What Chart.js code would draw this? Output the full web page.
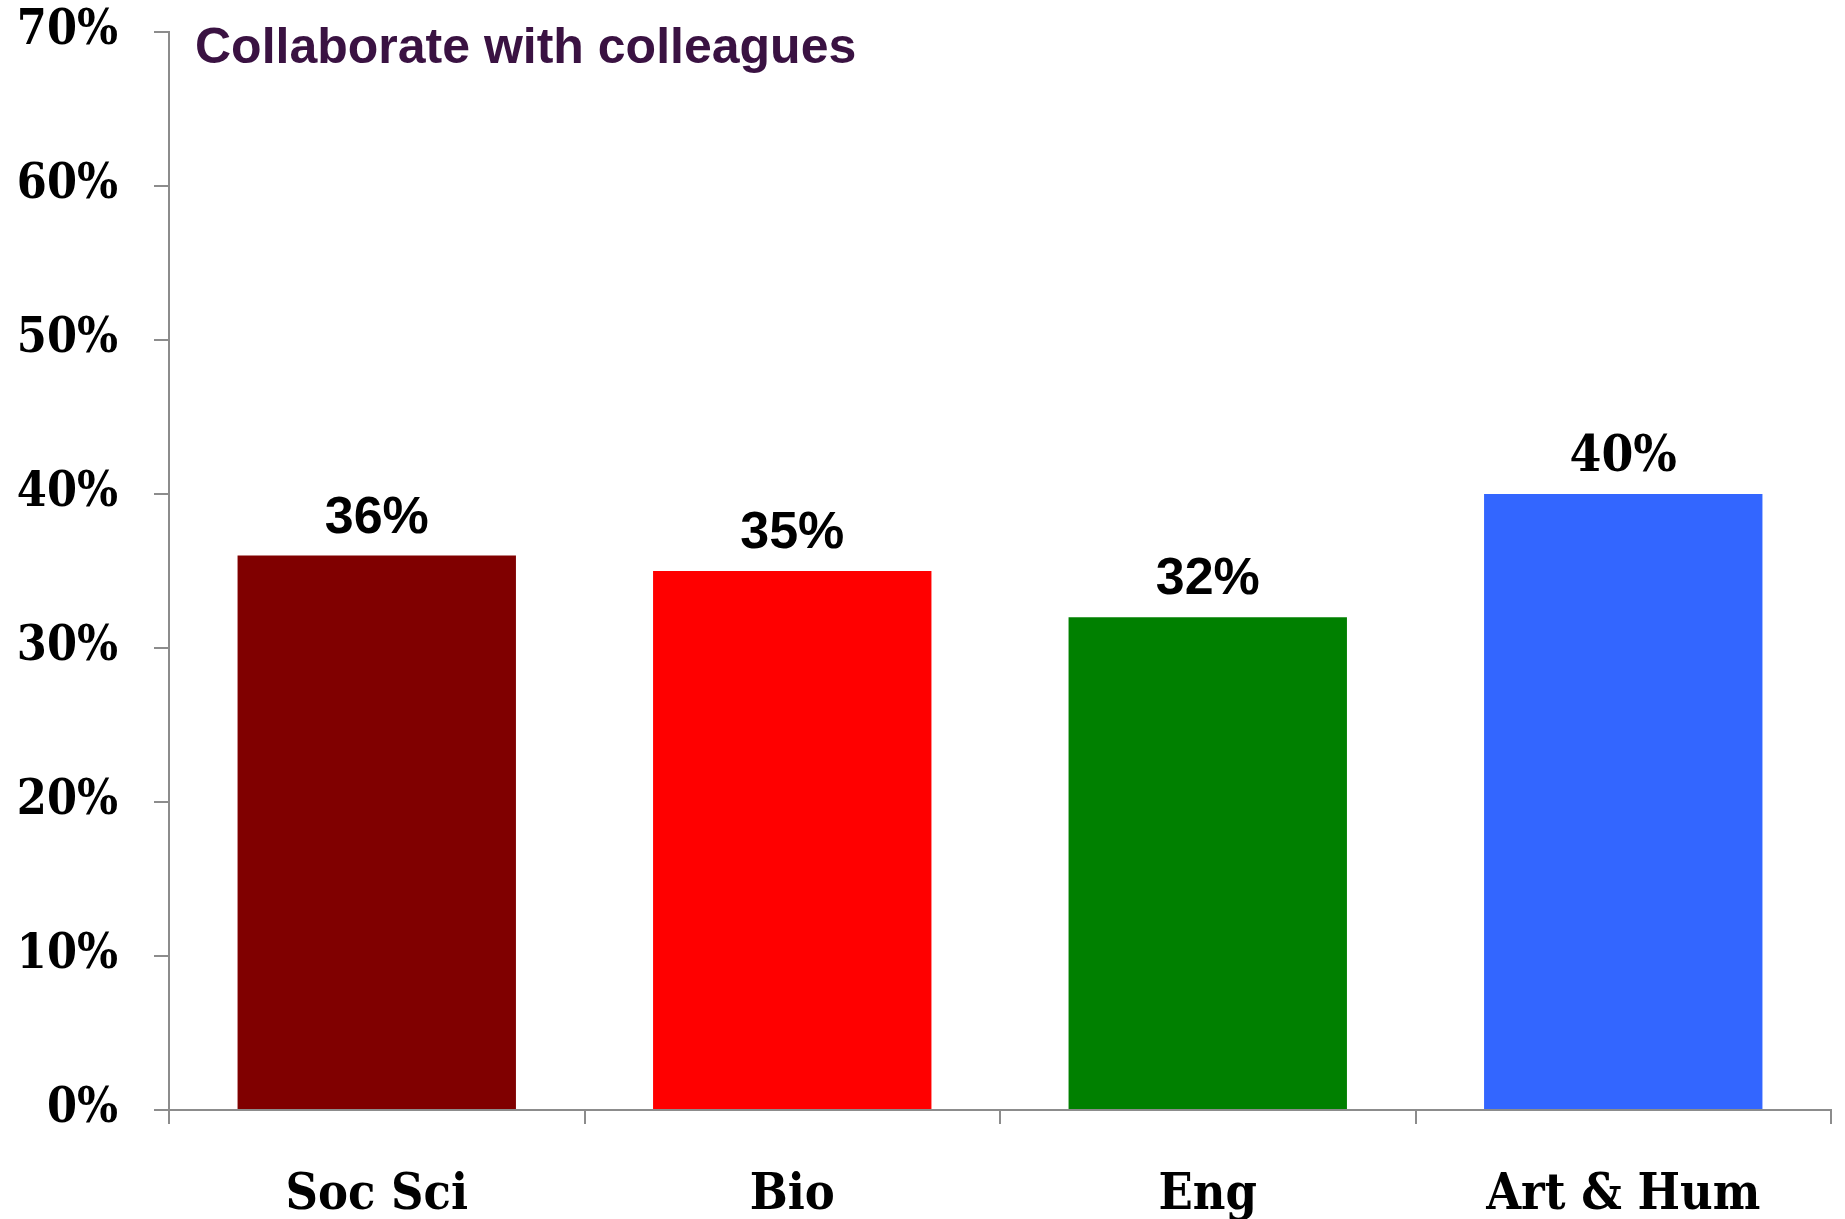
<!DOCTYPE html>
<html>
<head>
<meta charset="utf-8">
<title>Collaborate with colleagues</title>
<script src="https://cdn.jsdelivr.net/npm/chart.js@4/dist/chart.umd.min.js"></script>
<style>
  html, body { margin: 0; padding: 0; background: #fff; }
  #wrap { width: 1845px; height: 1219px; }
</style>
</head>
<body>
<div id="wrap"><canvas id="chart"></canvas></div>
<script>
// data
const categories = ['Soc Sci', 'Bio', 'Eng', 'Art & Hum'];
const values = [36, 35, 32, 40];
const barColors = ['#800000', '#ff0000', '#008000', '#3366ff'];
const titleText = 'Collaborate with colleagues';

const axisGray = '#8c8c8c';
const slab = '"DejaVu Serif Condensed", "DejaVu Serif", serif';
// the last value label uses the slab font in the original, the others a plain sans
const sansLabel = 'bold 52px "Liberation Sans", Arial, sans-serif';
const slabLabel = 'bold 51px ' + slab;

// value labels above each bar + the title inside the plot area
const labelPlugin = {
  id: 'labels',
  afterDatasetsDraw(chart) {
    const ctx = chart.ctx;
    const meta = chart.getDatasetMeta(0);
    ctx.save();
    ctx.fillStyle = '#000';
    ctx.textAlign = 'center';
    ctx.textBaseline = 'alphabetic';
    meta.data.forEach((bar, i) => {
      const p = bar.getProps(['x', 'y'], true);
      ctx.font = i === 3 ? slabLabel : sansLabel;
      ctx.fillText(values[i] + '%', p.x, p.y - 23);
    });
    // title
    const area = chart.chartArea;
    ctx.fillStyle = '#3a1242';
    ctx.textAlign = 'left';
    ctx.font = 'bold 50px "Liberation Sans", Arial, sans-serif';
    ctx.fillText(titleText, area.left + 26, 63);
    ctx.restore();
  }
};

new Chart(document.getElementById('chart'), {
  type: 'bar',
  data: {
    labels: categories,
    datasets: [{
      data: values,
      backgroundColor: barColors,
      borderWidth: 0,
      categoryPercentage: 0.67,
      barPercentage: 1.0
    }]
  },
  options: {
    responsive: true,
    maintainAspectRatio: false,
    animation: false,
    layout: { padding: { top: 32, right: 14, left: 0, bottom: 0 } },
    plugins: {
      legend: { display: false },
      tooltip: { enabled: false },
      title: { display: false }
    },
    scales: {
      x: {
        afterFit(scale) {
          scale.height = 1219 - 1110;
          scale.paddingLeft = 0;
          scale.paddingRight = 0;
        },
        border: { display: true, color: axisGray, width: 2 },
        grid: {
          offset: true,
          drawOnChartArea: false,
          drawTicks: true,
          tickLength: 14,
          color: axisGray,
          lineWidth: 2
        },
        ticks: {
          color: '#000',
          padding: 42,
          font: { family: slab, weight: 'bold', size: 50 }
        }
      },
      y: {
        min: 0,
        max: 70,
        afterFit(scale) {
          scale.width = 169;
          scale.paddingTop = 0;
          scale.paddingBottom = 0;
        },
        border: { display: true, color: axisGray, width: 2 },
        grid: {
          drawOnChartArea: false,
          drawTicks: true,
          tickLength: 15,
          color: axisGray,
          lineWidth: 2
        },
        ticks: {
          stepSize: 10,
          color: '#000',
          padding: 36,
          font: { family: slab, weight: 'bold', size: 48 },
          callback: v => v + '%'
        }
      }
    }
  },
  plugins: [labelPlugin]
});
</script>
</body>
</html>
